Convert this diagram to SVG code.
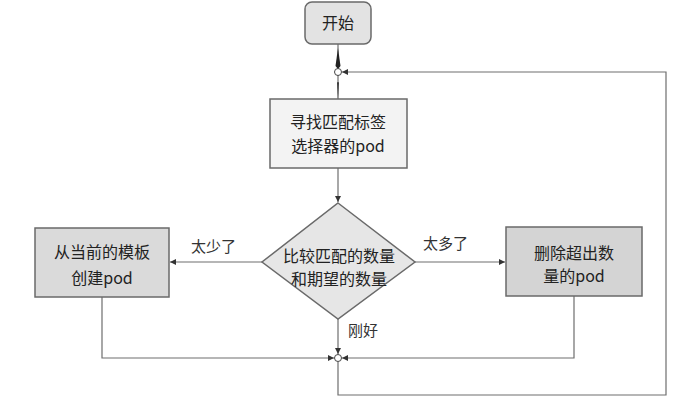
<svg xmlns="http://www.w3.org/2000/svg" width="678" height="405" viewBox="0 0 678 405">
<defs>
<style>
.t{font-family:"Noto Sans CJK SC","Noto Sans",sans-serif;font-size:16px;fill:#222;text-anchor:middle}
.l{font-family:"Noto Sans CJK SC","Noto Sans",sans-serif;font-size:15px;fill:#333}
.box{stroke:#6a6a6a;stroke-width:1.5}
.c{fill:none;stroke:#6e6e6e;stroke-width:1.2}
.j{fill:#fff;stroke:#444;stroke-width:1}
</style>
<marker id="a" viewBox="0 0 10 10" refX="10" refY="5" markerWidth="7" markerHeight="6" orient="auto" markerUnits="userSpaceOnUse">
<path d="M0,0L10,5L0,10z" fill="#333"/>
</marker>
<marker id="la" viewBox="0 0 20 6" refX="20" refY="3" markerWidth="20" markerHeight="5" orient="auto" markerUnits="userSpaceOnUse">
<path d="M0,2L20,3L0,4z" fill="#222"/>
</marker>
</defs>
<rect width="678" height="405" fill="#fff"/>
<g id="connectors">
<line class="c" x1="338" y1="44" x2="338" y2="69"/>
<path d="M338,48L340.5,66L338,69L335.5,66z" fill="#222"/>
<line class="c" x1="338" y1="75" x2="338" y2="99" marker-end="url(#la)"/>
<line class="c" x1="338" y1="168" x2="338" y2="202" marker-end="url(#a)"/>
<line class="c" x1="262" y1="262" x2="170" y2="262" marker-end="url(#a)"/>
<line class="c" x1="415" y1="262" x2="505" y2="262" marker-end="url(#a)"/>
<line class="c" x1="338" y1="319" x2="338" y2="354" marker-end="url(#a)"/>
<polyline class="c" points="102,297 102,358 334,358" marker-end="url(#a)"/>
<polyline class="c" points="574,296 574,358 342,358" marker-end="url(#a)"/>
<polyline class="c" points="338,362 338,395 666,395 666,72 342,72" marker-end="url(#a)"/>
<circle class="j" cx="338" cy="72" r="3.5"/>
<circle class="j" cx="338" cy="358" r="3.5"/>
<text class="l" x="191" y="252">太少了</text>
<text class="l" x="423" y="249">太多了</text>
<text class="l" x="348" y="336">刚好</text>
</g>
<g id="start">
<rect class="box" x="305" y="2" width="66" height="42" rx="7" fill="#e3e3e3"/>
<text class="t" x="338" y="29">开始</text>
</g>
<g id="find">
<rect class="box" x="270" y="99" width="137" height="69" fill="#f3f3f3"/>
<text class="t" x="338" y="128">寻找匹配标签</text>
<text class="t" x="338" y="152">选择器的pod</text>
</g>
<g id="compare">
<polygon class="box" points="338,203 415,262 338,319 262,262" fill="#e6e6e6"/>
<text class="t" x="339" y="262">比较匹配的数量</text>
<text class="t" x="339" y="285">和期望的数量</text>
</g>
<g id="create">
<rect class="box" x="35" y="228" width="134" height="69" fill="#dadada"/>
<text class="t" x="102" y="258">从当前的模板</text>
<text class="t" x="102" y="284">创建pod</text>
</g>
<g id="delete">
<rect class="box" x="506" y="227" width="136" height="69" fill="#d4d4d4"/>
<text class="t" x="574" y="259">删除超出数</text>
<text class="t" x="574" y="282">量的pod</text>
</g>
</svg>
